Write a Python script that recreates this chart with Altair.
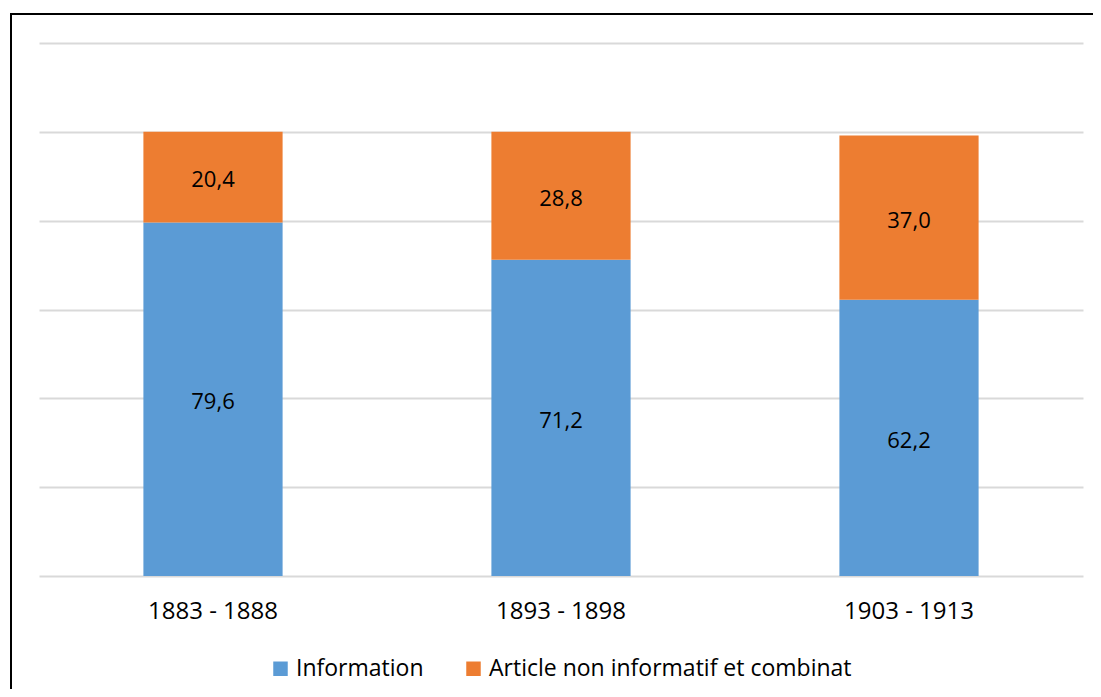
import altair as alt
import pandas as pd

periods = ["1883 - 1888", "1893 - 1898", "1903 - 1913"]
information = [79.6, 71.2, 62.2]
article = [20.4, 28.8, 37.0]
series = ["Information", "Article non informatif et combinat"]
colors = ["#5B9BD5", "#ED7D31"]
grid_values = [0, 20, 40, 60, 80, 100, 120]

rows = []
for i, p in enumerate(periods):
    rows.append({"period": p, "series": series[0], "value": information[i], "ord": 0})
    rows.append({"period": p, "series": series[1], "value": article[i], "ord": 1})
df = pd.DataFrame(rows)

W, H = 1044, 533
PAD_R, PAD_B = 10, 113
FONT = "Open Sans"

base = alt.Chart(df).transform_stack(
    stack="value", groupby=["period"],
    sort=[alt.SortField("ord", order="ascending")], as_=["y0", "y1"]
).transform_calculate(
    mid="(datum.y0 + datum.y1) / 2",
    label="replace(format(datum.value, '.1f'), '.', ',')"
)

xenc = alt.X("period:N", sort=periods, title=None,
             scale=alt.Scale(paddingInner=0.6, paddingOuter=0.3),
             axis=alt.Axis(labelAngle=0, labelFont=FONT, labelFontSize=24,
                           labelColor="black", ticks=False, domain=False,
                           labelPadding=23, grid=False))

yscale = alt.Scale(domain=[0, 120], nice=False)

bars = base.mark_bar().encode(
    x=xenc,
    y=alt.Y("y0:Q", scale=yscale,
            axis=alt.Axis(values=grid_values, labels=False, ticks=False,
                          domain=False, grid=True, gridColor="#d9d9d9",
                          gridWidth=2, title=None)),
    y2="y1:Q",
    color=alt.Color("series:N", scale=alt.Scale(domain=series, range=colors),
                    legend=alt.Legend(orient="none", legendX=230, legendY=614,
                                      direction="horizontal", title=None,
                                      symbolType="square", symbolSize=210,
                                      symbolStrokeWidth=0, labelFont=FONT,
                                      labelFontSize=23, labelColor="black",
                                      labelOffset=4, columnPadding=38,
                                      labelLimit=0, padding=0)),
)

text = base.mark_text(font=FONT, fontSize=22, color="black", dy=3).encode(
    x=alt.X("period:N", sort=periods),
    y=alt.Y("mid:Q", scale=yscale),
    text="label:N",
)

one = pd.DataFrame({"k": [0]})
frame_left = alt.Chart(one).mark_rule(color="black", strokeWidth=2).encode(
    x=alt.value(-28), y=alt.value(-30), y2=alt.value(H + PAD_B))
frame_top = alt.Chart(one).mark_rule(color="black", strokeWidth=2).encode(
    x=alt.value(-29), x2=alt.value(W + PAD_R), y=alt.value(-29))

chart = alt.layer(bars, text, frame_left, frame_top).properties(
    width=W, height=H,
    autosize=alt.AutoSizeParams(type="none"),
    padding={"left": 31, "top": 35, "right": PAD_R, "bottom": PAD_B},
).configure_view(stroke=None)

chart.save("out.html", embed_options={"renderer": "svg", "actions": False})
